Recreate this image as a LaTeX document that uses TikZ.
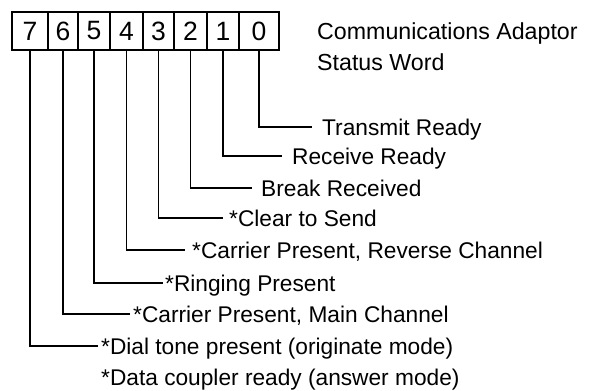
\documentclass[tikz,border=0pt]{standalone}
\usepackage{fontspec}
\setmainfont{Liberation Sans}
\begin{document}
\begin{tikzpicture}[x=1pt,y=-1pt,
  cell/.style={draw,line width=1.8pt,minimum height=38pt,inner sep=0pt,font=\fontsize{26.5}{30}\selectfont},
  lbl/.style={anchor=west,inner ysep=0pt,text height=16.2pt,text depth=0pt,font=\fontsize{22.7}{27}\selectfont},
  ttl/.style={anchor=base west,inner sep=0pt,font=\fontsize{23.2}{28}\selectfont},
  conn/.style={line width=1.8pt}]
\useasboundingbox (0,0) rectangle (592,391);
% status word cells
\node[cell,minimum width=36pt] (b7) at (30,31) {7};
\node[cell,minimum width=30pt] (b6) at (63,31) {6};
\node[cell,minimum width=32pt] (b5) at (94,31) {5};
\node[cell,minimum width=33pt] (b4) at (126.5,31) {4};
\node[cell,minimum width=31pt] (b3) at (158.5,31) {3};
\node[cell,minimum width=33pt] (b2) at (190.5,31) {2};
\node[cell,minimum width=32pt] (b1) at (223,31) {1};
\node[cell,minimum width=40pt] (b0) at (259,31) {0};
% title
\node[ttl] (title1) at (317,39) {Communications Adaptor};
\node[ttl] (title2) at (317,70) {Status Word};
% labels
\node[lbl,inner xsep=10pt] (l0) at (312,127) {Transmit Ready};
\node[lbl,inner xsep=10pt] (l1) at (282,156) {Receive Ready};
\node[lbl,inner xsep=9pt] (l2) at (252,188) {Break Received};
\node[lbl,inner xsep=6pt] (l3) at (223,218) {*Clear to Send};
\node[lbl,inner xsep=7pt] (l4) at (185,250) {*Carrier Present, Reverse Channel};
\node[lbl,inner xsep=2pt] (l5) at (163,283) {*Ringing Present};
\node[lbl,inner xsep=3pt] (l6) at (130,314) {*Carrier Present, Main Channel};
\node[lbl,inner xsep=3pt] (l7) at (98,346) {*Dial tone present (originate mode)};
\node[lbl,inner xsep=3pt] (l8) at (98,377) {*Data coupler ready (answer mode)};
% connectors
\draw[conn] (b0.south) |- (l0.west);
\draw[conn] (b1.south) |- (l1.west);
\draw[conn] (b2.south) |- (l2.west);
\draw[conn] (b3.south) |- (l3.west);
\draw[conn] (b4.south) |- (l4.west);
\draw[conn] (b5.south) |- (l5.west);
\draw[conn] (b6.south) |- (l6.west);
\draw[conn] (b7.south) |- (l7.west);
\end{tikzpicture}
\end{document}
